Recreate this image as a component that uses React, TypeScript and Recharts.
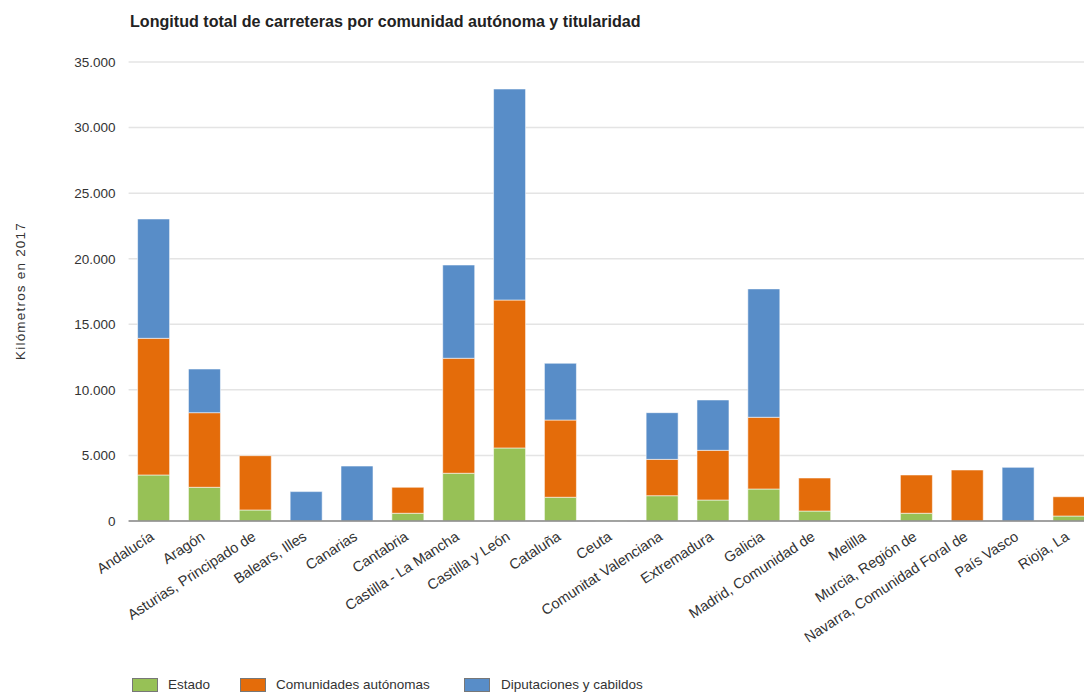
import React from "react";
import { BarChart, Bar, XAxis, YAxis, CartesianGrid } from "recharts";

const categories = [
  "Andalucía",
  "Aragón",
  "Asturias, Principado de",
  "Balears, Illes",
  "Canarias",
  "Cantabria",
  "Castilla - La Mancha",
  "Castilla y León",
  "Cataluña",
  "Ceuta",
  "Comunitat Valenciana",
  "Extremadura",
  "Galicia",
  "Madrid, Comunidad de",
  "Melilla",
  "Murcia, Región de",
  "Navarra, Comunidad Foral de",
  "País Vasco",
  "Rioja, La",
];

const estado = [3510, 2570, 840, 0, 0, 590, 3640, 5570, 1810, 12, 1930, 1600, 2440, 760, 10, 590, 0, 0, 380];
const comunidades = [10420, 5690, 4140, 0, 0, 1980, 8770, 11280, 5890, 0, 2770, 3790, 5470, 2520, 0, 2920, 3890, 0, 1470];
const diputaciones = [9100, 3330, 0, 2240, 4190, 0, 7110, 16090, 4330, 0, 3560, 3840, 9790, 0, 0, 0, 0, 4090, 0];

const yTicks = [0, 5000, 10000, 15000, 20000, 25000, 30000, 35000];

const seriesNames = ["Estado", "Comunidades autónomas", "Diputaciones y cabildos"];
const seriesColors = ["#97c156", "#e46c0a", "#588dc8"];

const data = categories.map((c, i) => ({
  name: c,
  estado: estado[i],
  comunidades: comunidades[i],
  diputaciones: diputaciones[i],
}));

const FONT = "'Liberation Sans', Arial, sans-serif";

const fmt = (v: number) => String(v).replace(/\B(?=(\d{3})+(?!\d))/g, ".");

const XTick = (props: any) => {
  const { x, y, payload } = props;
  return (
    <g transform={`translate(${x + 1},${y + 10})`}>
      <text
        x={0}
        y={0}
        textAnchor="end"
        transform="rotate(-33)"
        fill="#333"
        fontSize={14.5}
        fontFamily={FONT}
      >
        {payload.value}
      </text>
    </g>
  );
};

const legendPos = [
  { box: 132, text: 168 },
  { box: 240, text: 276 },
  { box: 464, text: 501 },
];

export default function App() {
  return (
    <div
      style={{
        position: "absolute",
        left: 0,
        top: 0,
        width: 1084,
        height: 692,
        overflow: "hidden",
        background: "#fff",
        fontFamily: FONT,
      }}
    >
      <div
        style={{
          position: "absolute",
          left: 130,
          top: 12,
          fontSize: 16.1,
          fontWeight: "bold",
          color: "#222",
          whiteSpace: "nowrap",
        }}
      >
        Longitud total de carreteras por comunidad autónoma y titularidad
      </div>
      <div
        style={{
          position: "absolute",
          left: 20,
          top: 291,
          transform: "translate(-50%, -50%) rotate(-90deg)",
          fontSize: 13.5,
          letterSpacing: 1.2,
          color: "#333",
          whiteSpace: "nowrap",
        }}
      >
        Kilómetros en 2017
      </div>
      <div style={{ position: "absolute", left: 0, top: 0 }}>
        <BarChart
          width={1100}
          height={692}
          data={data}
          margin={{ top: 62, right: 5.2, bottom: 0, left: 68.6 }}
        >
          <CartesianGrid vertical={false} stroke="#e4e4e4" strokeWidth={1.5} />
          <XAxis
            dataKey="name"
            interval={0}
            height={171}
            tickLine={false}
            axisLine={{ stroke: "#888", strokeWidth: 1.5 }}
            tick={<XTick />}
          />
          <YAxis
            width={60}
            domain={[0, 35000]}
            ticks={yTicks}
            tickFormatter={fmt}
            tickLine={false}
            axisLine={false}
            tickMargin={7}
            tick={{ fill: "#333", fontSize: 13.5, fontFamily: FONT }}
          />
          <Bar dataKey="estado" stackId="a" fill={seriesColors[0]} barSize={32} stroke="#ffffff" strokeOpacity={0.55} strokeWidth={1} isAnimationActive={false} />
          <Bar dataKey="comunidades" stackId="a" fill={seriesColors[1]} barSize={32} stroke="#ffffff" strokeOpacity={0.55} strokeWidth={1} isAnimationActive={false} />
          <Bar dataKey="diputaciones" stackId="a" fill={seriesColors[2]} barSize={32} stroke="#ffffff" strokeOpacity={0.55} strokeWidth={1} isAnimationActive={false} />
        </BarChart>
      </div>
      {seriesNames.map((n, i) => (
        <React.Fragment key={n}>
          <div
            style={{
              position: "absolute",
              left: legendPos[i].box,
              top: 678,
              width: 24,
              height: 12,
              background: seriesColors[i],
              border: "1px solid #777",
            }}
          />
          <div
            style={{
              position: "absolute",
              left: legendPos[i].text,
              top: 677,
              fontSize: 13.5,
              color: "#333",
              whiteSpace: "nowrap",
            }}
          >
            {n}
          </div>
        </React.Fragment>
      ))}
    </div>
  );
}
